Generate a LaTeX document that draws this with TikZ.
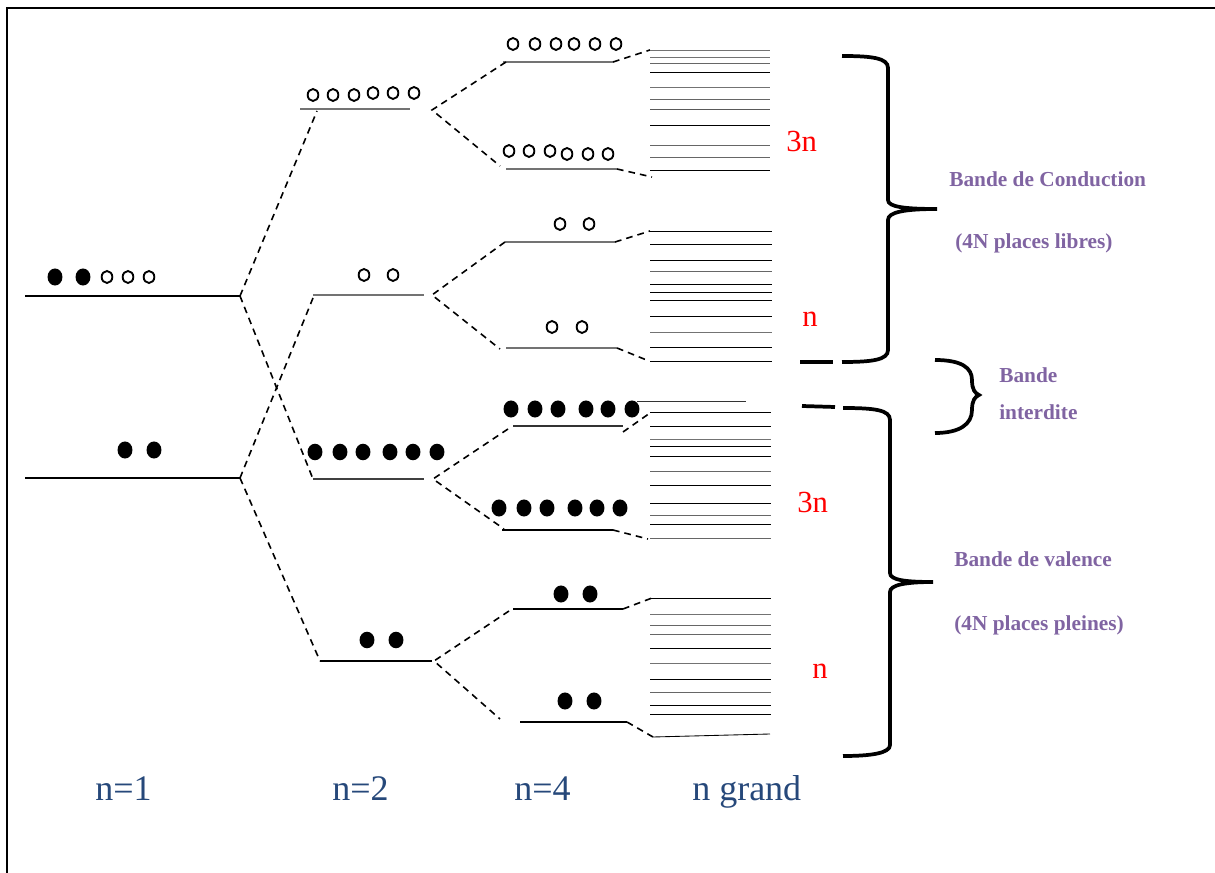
\documentclass[tikz,border=0pt]{standalone}
\usepackage{fontspec}
\setmainfont{Liberation Serif}
\begin{document}
\definecolor{axisblue}{RGB}{38,72,122}
\definecolor{bandpurple}{RGB}{128,100,162}
\begin{tikzpicture}[x=0.75pt,y=-0.75pt,
  level/.style={line width=1.5pt,draw=black},
  glevel/.style={line width=1.5pt,draw=black!55},
  link/.style={line width=1.2pt,dash pattern=on 5pt off 3.8pt},
  bandline/.style={line width=0.65pt},
  bracepath/.style={line width=2.8pt,line cap=butt},
  filledel/.style={fill=black},
  emptyel/.style={draw=black,line width=1.4pt},
  axislabel/.style={text=axisblue,font=\fontsize{27}{30}\selectfont,inner sep=0pt,anchor=base west},
  countlabel/.style={text=red,font=\fontsize{23}{26}\selectfont,inner sep=0pt,anchor=base west},
  bandlabel/.style={text=bandpurple,font=\fontsize{16}{18}\selectfont\bfseries,inner sep=0pt,anchor=base west}]
\useasboundingbox (0,0) rectangle (1215,873);

% frame
\draw[line width=1.6pt] (7,873) -- (7,8) -- (1215,8);

% ---------- level end points ----------
% n=1
\coordinate (n1a-l) at (25,296);  \coordinate (n1a-r) at (240,296);
\coordinate (n1b-l) at (25,478);  \coordinate (n1b-r) at (240,478);
% n=2
\coordinate (n2a-l) at (300,109); \coordinate (n2a-r) at (410,109); \coordinate (n2a-f) at (317,111);
\coordinate (n2b-l) at (313,295); \coordinate (n2b-r) at (424,295); \coordinate (n2b-f) at (313,298);
\coordinate (n2c-l) at (313,479); \coordinate (n2c-r) at (424,479);
\coordinate (n2d-l) at (320,661); \coordinate (n2d-r) at (432,661);
% split points right of the n=2 levels
\coordinate (s2a) at (432,110);
\coordinate (s2b) at (432,295);
\coordinate (s2c) at (433,479);
\coordinate (s2d) at (434,661);
% n=4
\coordinate (n4a-l) at (503,62);  \coordinate (n4a-r) at (613,62);  \coordinate (n4a-f) at (506,62);
\coordinate (n4b-l) at (506,169); \coordinate (n4b-r) at (617,169); \coordinate (n4b-f) at (500,166);
\coordinate (n4c-l) at (505,242); \coordinate (n4c-r) at (615,242); \coordinate (n4c-f) at (505,242);
\coordinate (n4d-l) at (506,348); \coordinate (n4d-r) at (617,348); \coordinate (n4d-f) at (500,349);
\coordinate (n4e-l) at (513,426); \coordinate (n4e-r) at (623,426); \coordinate (n4e-f) at (508,429);
\coordinate (n4f-l) at (502,530); \coordinate (n4f-r) at (613,530); \coordinate (n4f-f) at (504,529);
\coordinate (n4g-l) at (513,609); \coordinate (n4g-r) at (623,609); \coordinate (n4g-f) at (509,611);
\coordinate (n4h-l) at (520,722); \coordinate (n4h-r) at (627,722); \coordinate (n4h-f) at (500,719);
% band edges
\coordinate (ba-top) at (650,50);  \coordinate (ba-bot) at (652,177);
\coordinate (bb-top) at (650,231); \coordinate (bb-bot) at (649,361);
\coordinate (bc-top) at (650,413); \coordinate (bc-bot) at (648,539);
\coordinate (bd-top) at (652,598); \coordinate (bd-bot) at (653,737);

% ---------- levels ----------
\draw[level]  (n1a-l) -- (n1a-r);
\draw[level]  (n1b-l) -- (n1b-r);
\draw[glevel] (n2a-l) -- (n2a-r);
\draw[glevel] (n2b-l) -- (n2b-r);
\draw[level,draw=black!75] (n2c-l) -- (n2c-r);
\draw[level]  (n2d-l) -- (n2d-r);
\draw[glevel] (n4a-l) -- (n4a-r);
\draw[glevel] (n4b-l) -- (n4b-r);
\draw[glevel] (n4c-l) -- (n4c-r);
\draw[glevel] (n4d-l) -- (n4d-r);
\draw[level,draw=black!80] (n4e-l) -- (n4e-r);
\draw[level]  (n4f-l) -- (n4f-r);
\draw[level]  (n4g-l) -- (n4g-r);
\draw[level]  (n4h-l) -- (n4h-r);

% ---------- correlation lines ----------
\draw[link] (n1a-r) -- (n2a-f);
\draw[link] (n1a-r) -- (n2c-l);
\draw[link] (n1b-r) -- (n2b-f);
\draw[link] (n1b-r) -- (n2d-l);

\draw[link] (n4a-f) -- (s2a) -- (n4b-f);
\draw[link] (n4c-f) -- (s2b) -- (n4d-f);
\draw[link] (n4e-f) -- (s2c) -- (n4f-f);
\draw[link] (n4g-f) -- (s2d) -- (n4h-f);

\draw[link] (n4a-r) -- (ba-top);
\draw[link] (n4b-r) -- (ba-bot);
\draw[link] (n4c-r) -- (bb-top);
\draw[link] (n4d-r) -- (bb-bot);
\draw[link] ([yshift=-4.5pt]n4e-r) -- (bc-top);
\draw[link] (n4f-r) -- (bc-bot);
\draw[link] (n4g-r) -- (bd-top);
\draw[link] (n4h-r) -- (bd-bot);

% ---------- bands for large n ----------
\foreach \y/\c in {50/black!55,57/black!55,63/black!60,72/black,87/black!55,99/black!60,109/black!65,125/black,145/black!60,157/black!60,170/black}
  \draw[bandline,draw=\c] (650,\y) -- (770,\y);
\foreach \y/\c in {231/black,244/black,260/black,271/black!60,284/black,292/black,300/black,316/black,332/black!55,347/black,361/black}
  \draw[bandline,draw=\c] (650,\y) -- (772,\y);
\foreach \y/\c in {412/black,426/black,439/black!55,446/black,456/black,471/black!60,485/black,503/black,515/black!60,524/black,538/black!60}
  \draw[bandline,draw=\c] (650,\y) -- (771,\y);
\foreach \y/\c in {598/black,614/black!55,625/black!60,634/black!60,648/black,663/black!55,679/black,692/black!60,705/black,714/black}
  \draw[bandline,draw=\c] (650,\y) -- (771,\y);
\draw[bandline] (bd-bot) -- (770,734);
\draw[bandline,draw=black!80] (637,401) -- (746,401);

% ---------- electrons ----------
\foreach \x in {55,83}   \fill[filledel] (\x,277) ellipse [x radius=5.6pt,y radius=6.4pt];
\foreach \x in {107,128,149} \draw[emptyel] (\x,277) ellipse [x radius=4pt,y radius=4.5pt];
\foreach \x in {125,154} \fill[filledel] (\x,450) ellipse [x radius=5.6pt,y radius=6.4pt];

\foreach \x/\y in {313/95,333/95,354/95,373/93,393/93,414/93} \draw[emptyel] (\x,\y) ellipse [x radius=4pt,y radius=4.5pt];
\foreach \x in {364,393} \draw[emptyel] (\x,275) ellipse [x radius=4pt,y radius=4.5pt];
\foreach \x in {315,340,363,390,413,437} \fill[filledel] (\x,452) ellipse [x radius=5.6pt,y radius=6.2pt];
\foreach \x in {367,396} \fill[filledel] (\x,640) ellipse [x radius=5.6pt,y radius=6.2pt];

\foreach \x in {513,535,556,574,595,616} \draw[emptyel] (\x,44) ellipse [x radius=4pt,y radius=4.5pt];
\foreach \x/\y in {509/151,529/151,550/151,567/154,588/154,608/154} \draw[emptyel] (\x,\y) ellipse [x radius=4pt,y radius=4.5pt];
\foreach \x in {560,589} \draw[emptyel] (\x,224) ellipse [x radius=4pt,y radius=4.5pt];
\foreach \x in {552,582} \draw[emptyel] (\x,327) ellipse [x radius=4pt,y radius=4.5pt];
\foreach \x in {511,535,558,586,608,632} \fill[filledel] (\x,409) ellipse [x radius=5.6pt,y radius=6.4pt];
\foreach \x in {499,524,547,575,597,620} \fill[filledel] (\x,508) ellipse [x radius=5.6pt,y radius=6.4pt];
\foreach \x in {561,590} \fill[filledel] (\x,594) ellipse [x radius=5.6pt,y radius=6.4pt];
\foreach \x in {565,594} \fill[filledel] (\x,701) ellipse [x radius=5.6pt,y radius=6.4pt];

% ---------- braces ----------
\draw[bracepath] (842,56) .. controls (872,56) and (888,58) .. (888,68) -- (888,200)
  .. controls (888,207) and (905,209) .. (937,209)
  .. controls (905,209) and (888,212) .. (888,220) -- (888,350)
  .. controls (888,360) and (872,362) .. (842,362);
\draw[bracepath] (800,362) -- (833,362);

\draw[bracepath] (935,360) .. controls (962,360) and (972,368) .. (972,380)
  .. controls (972,390) and (975,393) .. (979,395)
  .. controls (975,397) and (972,400) .. (972,410)
  .. controls (972,424) and (960,433) .. (935,433);

\draw[bracepath] (802,406) -- (835,407);
\draw[bracepath] (843,408) .. controls (875,408) and (890,410) .. (890,420) -- (890,573)
  .. controls (890,580) and (905,582) .. (933,582)
  .. controls (905,582) and (890,585) .. (890,592) -- (890,745)
  .. controls (890,753) and (872,756) .. (843,756);

% ---------- labels ----------
\node[countlabel] (c1) at (786,152) {3n};
\node[countlabel] (c2) at (802,327) {n};
\node[countlabel] (c3) at (797,513) {3n};
\node[countlabel] (c4) at (812,678) {n};

\node[bandlabel] (bc1) at (949,187) {Bande de Conduction};
\node[bandlabel] (bc2) at (955,249) {(4N places libres)};
\node[bandlabel] (bi1) at (999,383) {Bande};
\node[bandlabel] (bi2) at (999,420) {interdite};
\node[bandlabel] (bv1) at (954,567) {Bande de valence};
\node[bandlabel] (bv2) at (954,631) {(4N places pleines)};

\node[axislabel] (x1) at (95,800) {n=1};
\node[axislabel] (x2) at (332,800) {n=2};
\node[axislabel] (x3) at (514,800) {n=4};
\node[axislabel] (x4) at (692,800) {n grand};
\end{tikzpicture}
\end{document}
